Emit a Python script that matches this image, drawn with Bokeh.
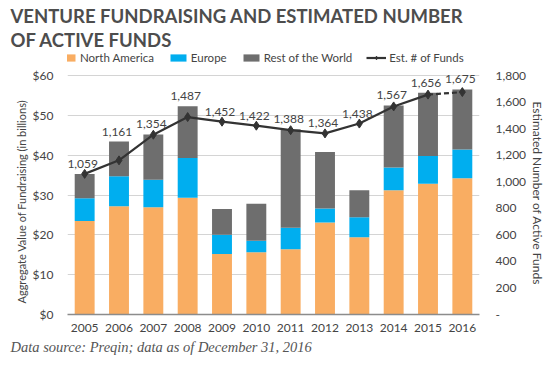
from bokeh.plotting import figure
from bokeh.core.properties import value
from bokeh.models import (Range1d, LinearAxis, NumeralTickFormatter, CustomJSTickFormatter,
                          Legend, LegendItem, ColumnDataSource, Title, LabelSet, FixedTicker)
from bokeh.embed import file_html
from bokeh.resources import INLINE

years = ["2005", "2006", "2007", "2008", "2009", "2010", "2011", "2012", "2013", "2014", "2015", "2016"]
north_america = [23.5, 27.2, 26.9, 29.3, 15.2, 15.6, 16.4, 23.1, 19.4, 31.2, 32.8, 34.2]
europe = [5.7, 7.5, 6.9, 10.0, 4.8, 2.9, 5.4, 3.5, 5.0, 5.7, 7.0, 7.2]
rest_world = [6.1, 8.7, 11.4, 13.0, 6.5, 9.3, 24.7, 14.2, 6.8, 15.6, 15.9, 15.1]
funds = [1059, 1161, 1354, 1487, 1452, 1422, 1388, 1364, 1438, 1567, 1656, 1675]
fund_labels = ["{:,}".format(v) for v in funds]
usd_ticks = [0, 10, 20, 30, 40, 50, 60]
fund_ticks = [0, 200, 400, 600, 800, 1000, 1200, 1400, 1600, 1800]

FONT = "Lato"
TXT = "#444444"

FW, FH = 412, 264          # frame size in px
AX_H = 239                 # px used by the $0-$60 axis
Y_TOP = 60 * FH / AX_H     # frame top above $60 leaves room for the legend
RATIO = 1800 / 60          # funds axis units per $bn

# data labels sit above whichever is higher: the bar top or the line point
totals = [a + b + c for a, b, c in zip(north_america, europe, rest_world)]
label_y = [max(f, t * RATIO) for f, t in zip(funds, totals)]

src = ColumnDataSource(dict(years=years, na=north_america, eu=europe, rw=rest_world,
                            funds=funds, flab=fund_labels, laby=label_y))

p = figure(x_range=years, y_range=Range1d(0, Y_TOP), frame_width=FW, frame_height=FH,
           output_backend="svg", toolbar_location=None,
           min_border_left=67, min_border_right=71, min_border_top=50, min_border_bottom=52)
p.extra_y_ranges = {"funds": Range1d(0, Y_TOP * RATIO)}

bars = p.vbar_stack(["na", "eu", "rw"], x="years", width=0.58, source=src,
                    color=["#F9AD62", "#00AEEF", "#6E6E6E"], line_color=None)

solid_src = ColumnDataSource(dict(years=years[:11], funds=funds[:11]))
dash_src = ColumnDataSource(dict(years=years[10:], funds=funds[10:]))
l1 = p.line("years", "funds", source=solid_src, y_range_name="funds", line_color="#333333", line_width=2.2)
p.line("years", "funds", source=dash_src, y_range_name="funds", line_color="#333333", line_width=2.2,
       line_dash="5 3")
sc = p.scatter("years", "funds", source=src, y_range_name="funds", marker="diamond", size=9,
               color="#333333")

labels = LabelSet(x="years", y="laby", text="flab", source=src, y_range_name="funds",
                  x_offset=-2, y_offset=6, text_align="center", text_baseline="bottom",
                  text_font=value(FONT), text_font_size="12px", text_color=TXT)
p.add_layout(labels)

# axes
p.yaxis.formatter = NumeralTickFormatter(format="$0")
p.yaxis.ticker = FixedTicker(ticks=usd_ticks)
right = LinearAxis(y_range_name="funds",
                   ticker=FixedTicker(ticks=fund_ticks),
                   formatter=CustomJSTickFormatter(code='return tick == 0 ? "-" : tick.toLocaleString("en-US");'))
p.add_layout(right, "right")

for ax in [p.yaxis[0], right]:
    ax.axis_line_color = None
    ax.major_tick_line_color = None
    ax.minor_tick_line_color = None
    ax.major_label_text_font = FONT
    ax.major_label_text_font_size = "12px"
    ax.major_label_text_color = TXT
p.yaxis[0].major_label_standoff = 8
right.major_label_standoff = 10

p.xaxis.axis_line_color = "#8c8c8c"
p.xaxis.axis_line_width = 1.5
p.xaxis.major_tick_line_color = None
p.xaxis.minor_tick_line_color = None
p.xaxis.major_label_text_font = FONT
p.xaxis.major_label_text_font_size = "12px"
p.xaxis.major_label_text_color = TXT
p.xaxis.major_label_standoff = 3

p.xgrid.grid_line_color = None
p.ygrid.grid_line_color = "#d4d4d4"
p.ygrid.grid_line_width = 1.2
p.outline_line_color = None
p.x_range.range_padding = 0

legend = Legend(items=[
    LegendItem(label="North America", renderers=[bars[0]]),
    LegendItem(label="Europe", renderers=[bars[1]]),
    LegendItem(label="Rest of the World", renderers=[bars[2]]),
    LegendItem(label="Est. # of Funds", renderers=[l1, sc]),
], orientation="horizontal", location=(-10, FH - 14), border_line_color=None,
   background_fill_alpha=0,
   label_text_font=FONT, label_text_font_size="11.5px", label_text_color=TXT,
   glyph_width=20, glyph_height=9, label_standoff=3, spacing=14, padding=2, margin=0)
p.add_layout(legend)

# axis titles (side panels)
p.add_layout(Title(text="Aggregate Value of Fundraising (in billions)", align="left", offset=11,
                   standoff=4, text_font=FONT, text_font_size="11px", text_font_style="normal",
                   text_color=TXT), "left")
p.add_layout(Title(text="Estimated Number of Active Funds", align="left", offset=51,
                   standoff=0, text_font=FONT, text_font_size="12px", text_font_style="normal",
                   text_color=TXT), "right")

# chart title (two lines)
p.add_layout(Title(text="OF ACTIVE FUNDS", text_font=FONT, text_font_size="18.5px",
                   text_font_style="bold", text_color="#4d4d4d", align="left", offset=-57,
                   standoff=0), "above")
p.add_layout(Title(text="VENTURE FUNDRAISING AND ESTIMATED NUMBER", text_font=FONT, text_font_size="18.5px",
                   text_font_style="bold", text_color="#4d4d4d", align="left", offset=-57,
                   standoff=0), "above")

# footer
p.add_layout(Title(text="Data source: Preqin; data as of December 31, 2016", text_font="Liberation Serif",
                   text_font_size="14.5px", text_font_style="italic", text_color="#555555",
                   align="left", offset=-57, standoff=4), "below")

open("out.html", "w").write(file_html(p, INLINE))
